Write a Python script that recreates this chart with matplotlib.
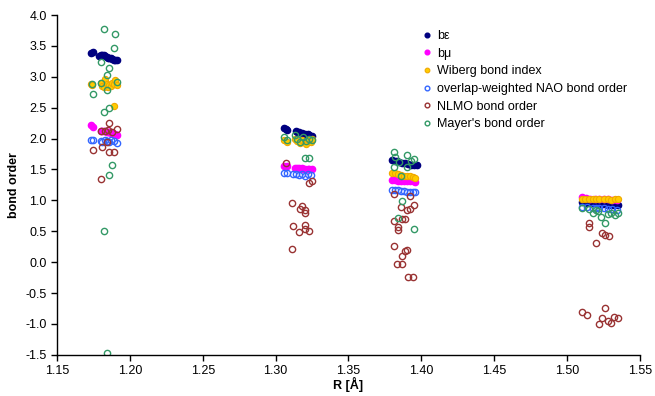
import matplotlib.pyplot as plt

plt.rcParams['font.family'] = ['Liberation Sans', 'DejaVu Sans']
plt.rcParams['font.size'] = 9

# bε (filled, navy)
be_x = [1.173, 1.175, 1.179, 1.180, 1.181, 1.182, 1.183, 1.184, 1.185, 1.186, 1.187, 1.188, 1.189, 1.190, 1.191,
        1.306, 1.307, 1.308, 1.314, 1.315, 1.316, 1.318, 1.319, 1.320, 1.322, 1.323, 1.325,
        1.380, 1.382, 1.383, 1.385, 1.387, 1.389, 1.391, 1.393, 1.395, 1.397,
        1.510, 1.513, 1.515, 1.518, 1.520, 1.522, 1.524, 1.526, 1.528, 1.530, 1.532, 1.535]
be_y = [3.39, 3.40, 3.33, 3.35, 3.36, 3.35, 3.34, 3.32, 3.31, 3.30, 3.30, 3.29, 3.28, 3.28, 3.27,
        2.17, 2.16, 2.14, 2.12, 2.11, 2.10, 2.09, 2.08, 2.08, 2.07, 2.06, 2.05,
        1.65, 1.64, 1.63, 1.62, 1.61, 1.60, 1.59, 1.58, 1.58, 1.57,
        0.97, 0.96, 0.96, 0.95, 0.95, 0.94, 0.94, 0.94, 0.93, 0.93, 0.93, 0.92]

# bμ (filled, magenta)
bm_x = [1.173, 1.175, 1.180, 1.181, 1.182, 1.184, 1.185, 1.186, 1.187, 1.188, 1.189, 1.190, 1.191,
        1.306, 1.308, 1.313, 1.315, 1.316, 1.318, 1.319, 1.320, 1.322, 1.323, 1.325,
        1.380, 1.382, 1.384, 1.386, 1.388, 1.390, 1.392, 1.394, 1.396,
        1.510, 1.513, 1.516, 1.519, 1.522, 1.525, 1.528, 1.531, 1.534]
bm_y = [2.22, 2.18, 2.13, 2.12, 2.12, 2.11, 2.10, 2.10, 2.09, 2.09, 2.08, 2.07, 2.06,
        1.56, 1.55, 1.53, 1.52, 1.52, 1.52, 1.51, 1.51, 1.51, 1.50, 1.50,
        1.33, 1.33, 1.32, 1.32, 1.32, 1.31, 1.31, 1.31, 1.30,
        1.05, 1.04, 1.03, 1.03, 1.02, 1.02, 1.02, 1.01, 1.01]

# Wiberg bond index (filled, gold)
wb_x = [1.173, 1.174, 1.180, 1.181, 1.182, 1.183, 1.184, 1.185, 1.186, 1.187, 1.188, 1.189, 1.190, 1.191, 1.189,
        1.306, 1.308, 1.313, 1.315, 1.317, 1.318, 1.320, 1.321, 1.322, 1.324, 1.325,
        1.380, 1.382, 1.384, 1.386, 1.388, 1.390, 1.392, 1.394, 1.396,
        1.510, 1.512, 1.515, 1.518, 1.520, 1.522, 1.525, 1.528, 1.530, 1.533, 1.535]
wb_y = [2.88, 2.86, 2.90, 2.85, 2.83, 2.96, 2.88, 2.84, 2.87, 2.85, 2.90, 2.88, 2.95, 2.86, 2.53,
        1.97, 1.95, 2.00, 1.96, 1.93, 1.98, 1.95, 1.92, 1.97, 1.94, 1.99,
        1.45, 1.44, 1.42, 1.41, 1.40, 1.40, 1.39, 1.38, 1.37,
        1.02, 1.03, 1.02, 1.02, 1.03, 1.02, 1.02, 1.02, 1.01, 1.02, 1.02]

# overlap-weighted NAO bond order (open, blue)
nao_x = [1.173, 1.175, 1.180, 1.181, 1.183, 1.184, 1.186, 1.187, 1.189, 1.191,
         1.306, 1.308, 1.312, 1.314, 1.316, 1.318, 1.320, 1.322, 1.324,
         1.380, 1.382, 1.384, 1.386, 1.388, 1.390, 1.392, 1.394, 1.396,
         1.510, 1.514, 1.518, 1.520, 1.522, 1.525, 1.528, 1.531, 1.534]
nao_y = [1.97, 1.97, 1.96, 1.95, 1.97, 1.96, 1.95, 1.98, 1.96, 1.93,
         1.44, 1.44, 1.42, 1.43, 1.41, 1.42, 1.40, 1.43, 1.41,
         1.17, 1.16, 1.16, 1.15, 1.15, 1.14, 1.14, 1.13, 1.13,
         0.90, 0.89, 0.88, 0.88, 0.87, 0.87, 0.86, 0.86, 0.85]

# NLMO bond order (open, dark red)
nlmo_x = [1.186, 1.180, 1.183, 1.185, 1.188, 1.191, 1.184, 1.175, 1.181, 1.186, 1.189, 1.180,
          1.307, 1.325, 1.323, 1.311, 1.318, 1.317, 1.320, 1.320, 1.312, 1.320, 1.316, 1.320, 1.323, 1.311,
          1.381, 1.392, 1.386, 1.390, 1.392, 1.395, 1.381, 1.387, 1.389, 1.384, 1.384, 1.381, 1.389, 1.390,
          1.387, 1.383, 1.387, 1.391, 1.394,
          1.515, 1.515, 1.524, 1.526, 1.520, 1.529, 1.510, 1.514, 1.526, 1.524, 1.522, 1.528, 1.530, 1.532, 1.535]
nlmo_y = [2.25, 2.13, 2.12, 2.14, 2.11, 2.15, 1.94, 1.82, 1.86, 1.78, 1.78, 1.35,
          1.60, 1.31, 1.28, 0.96, 0.91, 0.86, 0.84, 0.80, 0.59, 0.60, 0.49, 0.54, 0.50, 0.21,
          1.10, 1.07, 0.89, 0.84, 0.86, 0.92, 0.67, 0.70, 0.70, 0.57, 0.52, 0.26, 0.18, 0.20,
          0.10, -0.03, -0.03, -0.24, -0.24,
          0.63, 0.57, 0.47, 0.44, 0.31, 0.43, -0.81, -0.85, -0.74, -0.90, -1.00, -0.96, -0.98, -0.88, -0.90]

# Mayer's bond order (open, green)
may_x = [1.182, 1.190, 1.189, 1.180, 1.186, 1.184, 1.174, 1.180, 1.191, 1.175, 1.184, 1.182, 1.186, 1.188,
         1.186, 1.182, 1.184,
         1.306, 1.308, 1.313, 1.315, 1.317, 1.319, 1.321, 1.323, 1.325, 1.320, 1.323,
         1.381, 1.382, 1.390, 1.395, 1.381, 1.390, 1.386, 1.387, 1.384, 1.395, 1.385, 1.393,
         1.510, 1.515, 1.518, 1.521, 1.523, 1.526, 1.528, 1.530, 1.533, 1.535, 1.520]
may_y = [3.77, 3.69, 3.47, 3.24, 3.14, 3.03, 2.88, 2.90, 2.92, 2.72, 2.79, 2.43, 2.49, 1.57,
         1.41, 0.50, -1.47,
         2.03, 1.98, 2.06, 1.99, 1.94, 2.03, 1.96, 2.00, 1.98, 1.69, 1.69,
         1.78, 1.70, 1.73, 1.67, 1.54, 1.54, 1.39, 0.99, 0.72, 0.54, 1.62, 1.64,
         0.88, 0.86, 0.80, 0.82, 0.73, 0.63, 0.78, 0.80, 0.77, 0.80, 0.85]

fig = plt.figure(figsize=(6.55, 3.96), dpi=100)
ax = fig.add_axes([0.087, 0.104, 0.890, 0.858])

ms = 4.5
ax.plot(be_x, be_y, 'o', color='#000080', ms=ms, mec='#000080', label='bε')
ax.plot(bm_x, bm_y, 'o', color='#FF00FF', ms=ms, mec='#FF00FF', label='bμ')
ax.plot(wb_x, wb_y, 'o', color='#FFCC00', ms=ms, mec='#F0A800', mew=0.8, label='Wiberg bond index')
ax.plot(nao_x, nao_y, 'o', mfc='none', mec='#3366FF', ms=ms, mew=1, label='overlap-weighted NAO bond order')
ax.plot(nlmo_x, nlmo_y, 'o', mfc='none', mec='#993333', ms=ms, mew=1, label='NLMO bond order')
ax.plot(may_x, may_y, 'o', mfc='none', mec='#339966', ms=ms, mew=1, label="Mayer's bond order")

ax.set_xlim(1.15, 1.55)
ax.set_ylim(-1.5, 4.0)
ax.set_xticks([1.15, 1.20, 1.25, 1.30, 1.35, 1.40, 1.45, 1.50, 1.55])
ax.set_yticks([-1.5, -1.0, -0.5, 0.0, 0.5, 1.0, 1.5, 2.0, 2.5, 3.0, 3.5, 4.0])
ax.xaxis.set_major_formatter(plt.FormatStrFormatter('%.2f'))
ax.yaxis.set_major_formatter(plt.FormatStrFormatter('%.1f'))
ax.tick_params(direction='out', length=4, width=1, labelsize=9)
for s in ['top', 'right']:
    ax.spines[s].set_visible(False)
for s in ['left', 'bottom']:
    ax.spines[s].set_linewidth(1)

ax.set_xlabel('R [Å]', fontweight='bold', fontsize=9, labelpad=0)
ax.set_ylabel('bond order', fontweight='bold', fontsize=9, labelpad=4)

fig.legend(loc='upper left', bbox_to_anchor=(0.635, 0.94), frameon=False, fontsize=9,
           handlelength=0.8, handletextpad=0.4, labelspacing=0.45, borderpad=0, markerscale=0.75)

fig.savefig('out.png', dpi=100)
